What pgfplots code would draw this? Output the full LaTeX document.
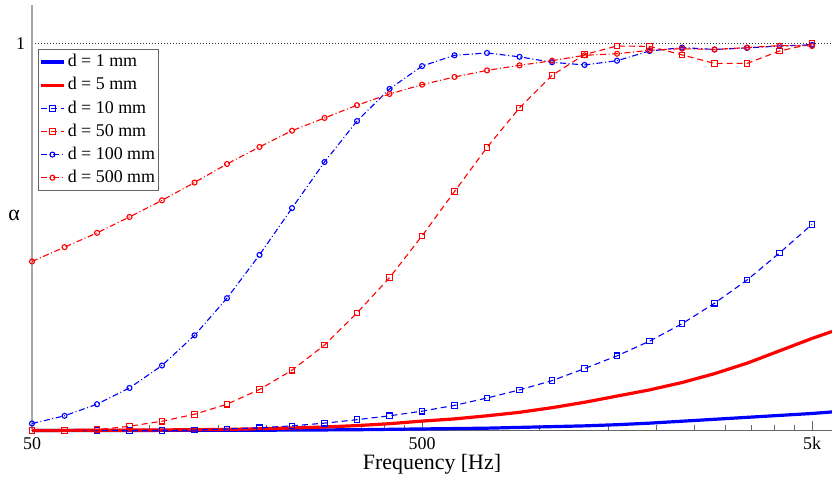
\documentclass[border=0pt]{standalone}
\usepackage{pgfplots}
\usepackage{pgfplotstable}
\pgfplotsset{compat=1.18}
\usepackage{fontspec}
\setmainfont{Liberation Serif}

\pgfplotstableread{
f       da     db     dc     dd     de     dg
100     0      0      0      0      0.018  0.437
121.2   0      0.0003 0      0      0.038  0.474
146.8   0      0.0006 0      0.002  0.068  0.511
177.8   0.0001 0.001  0      0.011  0.110  0.552
215.4   0.0003 0.0015 0      0.024  0.168  0.595
261.0   0.0004 0.002  0.001  0.042  0.246  0.641
316.2   0.0006 0.003  0.004  0.068  0.342  0.689
383.1   0.0008 0.0045 0.007  0.106  0.454  0.733
464.2   0.001  0.0065 0.012  0.156  0.575  0.775
562.3   0.0015 0.009  0.019  0.221  0.694  0.808
681.3   0.002  0.0127 0.028  0.304  0.800  0.841
825.4   0.003  0.0176 0.038  0.395  0.883  0.870
1000    0.004  0.0243 0.050  0.503  0.942  0.894
1211.5  0.005  0.030  0.065  0.618  0.970  0.914
1467.8  0.006  0.038  0.084  0.732  0.976  0.931
1778.3  0.008  0.047  0.105  0.834  0.966  0.944
2154.4  0.010  0.059  0.129  0.918  0.952  0.956
2610.2  0.012  0.073  0.160  0.972  0.945  0.970
3162.3  0.015  0.089  0.193  0.994  0.956  0.974
3831.2  0.019  0.105  0.231  0.993  0.981  0.983
4641.6  0.024  0.124  0.276  0.971  0.990  0.987
5623.4  0.029  0.147  0.329  0.949  0.985  0.985
6812.9  0.034  0.174  0.389  0.949  0.989  0.990
8254.0  0.039  0.206  0.459  0.981  0.994  0.995
10000   0.044  0.238  0.533  1.000  0.997  0.994
}\data

\pgfplotstableread{
f       da     db
10000   0.044  0.238
11250   0.048  0.256
}\edge

\begin{document}
\begin{tikzpicture}
\begin{axis}[
  name=ax, at={(16bp,24.75bp)}, anchor=south west,
  scale only axis, width=400bp, height=212.75bp,
  xmode=log, xmin=100, xmax=11250, ymin=0, ymax=1.1,
  clip=false,
  axis x line=bottom, axis y line=left, axis line style={-},
  x axis line style={draw=black!60, line width=0.6bp},
  y axis line style={draw=black!35, line width=1bp},
  xtick={100,1000,10000}, xticklabels={50,500,5k},
  minor xtick={200,300,400,500,600,700,800,900,2000,3000,4000,5000,6000,7000,8000,9000},
  ytick={1}, yticklabels={1},
  tick align=inside,
  xtick style={draw=black!60, line width=0.5bp},
  major tick length=4.5bp, minor tick length=2.5bp,
  ytick style={draw=none},
  ymajorgrids,
  major grid style={draw=black!80, line width=0.4bp, dash pattern=on 0.4bp off 1.1bp},
  /pgf/number format/assume math mode=true,
  tick label style={font=\fontsize{9}{10}\selectfont},
  xlabel={Frequency [Hz]},
  xlabel style={font=\fontsize{11}{13}\selectfont, at={(axis description cs:0.5,0)}, anchor=base, yshift=-19.5bp},
  ylabel={α},
  ylabel style={font=\fontsize{11}{13}\selectfont, rotate=-90, at={(axis description cs:-0.0225,0.505)}, anchor=center},
  legend style={at={(0.0075,0.8966)}, anchor=north west, draw=black!60, fill=white,
    line width=0.5bp,
    font=\fontsize{9}{10}\selectfont, inner sep=0.5bp, row sep=0bp,
    nodes={inner sep=1.2bp, text height=0.7em, text depth=0.22em}},
  legend cell align=left,
  legend image code/.code={\draw[mark repeat=2, mark phase=2, #1] plot coordinates {(0cm,0cm) (0.2cm,0cm) (0.4cm,0cm)};},
  every axis plot/.append style={line width=0.55bp},
]
\addplot[blue, line width=1.6bp, no markers] table[x=f, y=da] {\data};
\addlegendentry{d = 1 mm}
\addplot[red, line width=1.6bp, no markers] table[x=f, y=db] {\data};
\addlegendentry{d = 5 mm}
\addplot[blue, dash pattern=on 3bp off 2bp, mark=square, mark size=1.4bp, mark options={solid}] table[x=f, y=dc] {\data};
\addlegendentry{d = 10 mm}
\addplot[red, dash pattern=on 3bp off 2bp, mark=square, mark size=1.4bp, mark options={solid}] table[x=f, y=dd] {\data};
\addlegendentry{d = 50 mm}
\addplot[blue, dash pattern=on 3bp off 1.3bp on 0.5bp off 1.3bp, mark=o, mark size=1.25bp, mark options={solid}] table[x=f, y=de] {\data};
\addlegendentry{d = 100 mm}
\addplot[red, dash pattern=on 3bp off 1.3bp on 0.5bp off 1.3bp, mark=o, mark size=1.25bp, mark options={solid}] table[x=f, y=dg] {\data};
\addlegendentry{d = 500 mm}
\addplot[blue, line width=1.6bp, no markers, forget plot] table[x=f, y=da] {\edge};
\addplot[red, line width=1.6bp, no markers, forget plot] table[x=f, y=db] {\edge};
\end{axis}
\pgfresetboundingbox
\path[use as bounding box] (0,0) rectangle (416bp,240bp);
\end{tikzpicture}
\end{document}
